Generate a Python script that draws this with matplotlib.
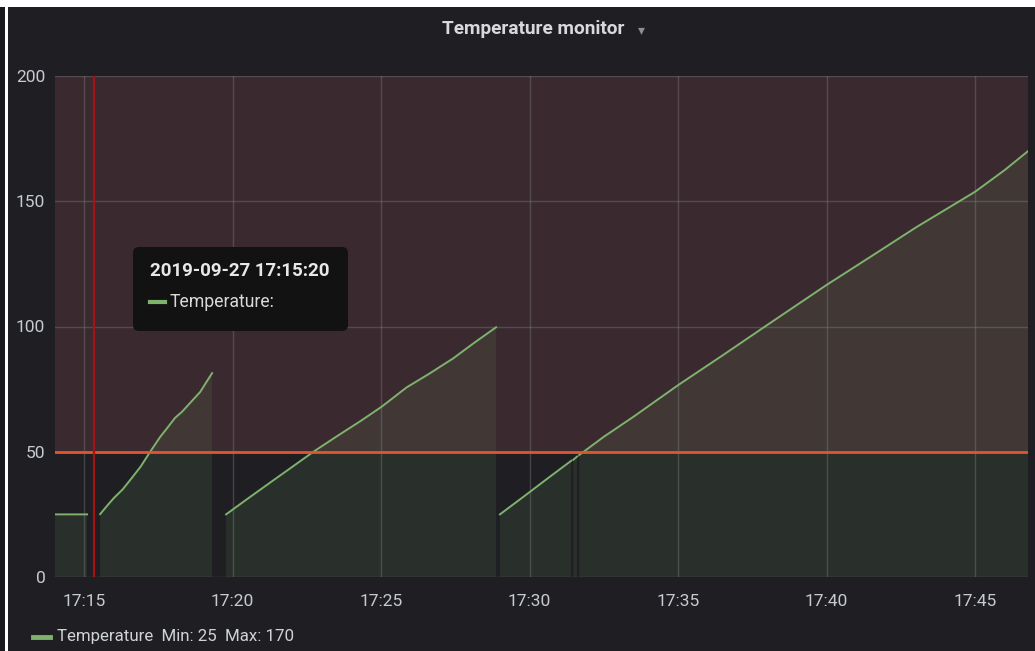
import numpy as np
import matplotlib
matplotlib.use("Agg")
import matplotlib.pyplot as plt
from matplotlib.patches import Rectangle, FancyBboxPatch
from matplotlib.lines import Line2D
from matplotlib.transforms import IdentityTransform

# ---------------- data (minutes past 17:00, temperature) ----------------
nan = np.nan
minutes = [14.02, 15.10, 15.30,
           15.54, 15.80, 16.00, 16.30, 16.55, 16.90, 17.22, 17.56, 17.80, 18.06, 18.30, 18.57, 18.91, 19.10, 19.31, 19.50,
           19.78, 20.50, 21.30, 22.00, 22.72, 23.50, 24.30, 25.02, 25.86, 26.60, 27.43, 28.10, 28.87, 28.93,
           29.00, 29.80, 30.60, 31.40, 31.44, 31.47, 31.60, 31.64,
           31.67, 32.50, 33.50, 35.00, 36.50, 38.00, 40.00, 41.50, 43.00, 45.00, 46.00, 46.78]
temperature = [25.0, 25.0, nan,
               25.1, 28.8, 31.5, 35.0, 38.7, 44.0, 49.9, 55.9, 59.5, 63.5, 66.0, 69.5, 73.9, 77.5, 81.4, nan,
               25.0, 31.2, 38.0, 43.9, 50.0, 56.1, 62.2, 68.0, 75.7, 81.0, 87.3, 93.2, 99.7, nan,
               25.0, 32.1, 39.3, 46.4, nan, 46.8, 48.1, nan,
               48.7, 56.0, 64.0, 76.6, 88.5, 100.6, 116.6, 128.0, 139.5, 153.8, 162.5, 170.0]

x_ticks = [15, 20, 25, 30, 35, 40, 45]
x_tick_labels = ["17:15", "17:20", "17:25", "17:30", "17:35", "17:40", "17:45"]
y_ticks = [0, 50, 100, 150, 200]
threshold = 50
hover_minute = 15 + 20 / 60.0
title = "Temperature monitor"
tooltip_time = "2019-09-27 17:15:20"
series_name = "Temperature"
legend_text = "Temperature  Min: 25  Max: 170"

# ---------------- style ----------------
W, H = 1035, 651
PANEL = "#1f1f23"
TXT = "#c7cbd0"
GREEN = "#7eb26d"
FONT = ["Roboto", "DejaVu Sans"]

plt.rcParams["font.family"] = FONT

fig = plt.figure(figsize=(W / 100, H / 100), dpi=100, facecolor=PANEL)

# white frame strips (top and left)
fig.patches.append(Rectangle((0, (H - 7) / H), 1, 7 / H, transform=fig.transFigure,
                             facecolor="white", edgecolor="none", zorder=0))
fig.patches.append(Rectangle((5 / W, 0), 3 / W, 1, transform=fig.transFigure,
                             facecolor="white", edgecolor="none", zorder=0))
fig.patches.append(Rectangle((0, 0), 5 / W, (H - 7) / H, transform=fig.transFigure,
                             facecolor="#18191c", edgecolor="none", zorder=0))

left, right, top, bottom = 55, 1028, 76, 577
ax = fig.add_axes([left / W, (H - bottom) / H, (right - left) / W, (bottom - top) / H])
ax.set_facecolor(PANEL)

ax.set_xlim(14.02, 46.78)
ax.set_ylim(0, 200)

# threshold region
ax.axhspan(threshold, 200, color="#3a2a30", zorder=0.5, lw=0)

t = np.array(minutes)
v = np.array(temperature)
ax.fill_between(t, 0, v, color=GREEN, alpha=0.11, lw=0, zorder=1)
ax.plot(t, v, color=GREEN, lw=1.4, zorder=2.2)

ax.axhline(threshold, color="#e2552f", lw=2.0, zorder=2.5)
ax.axvline(hover_minute, color="#a01414", lw=1.6, zorder=3)

ax.set_xticks(x_ticks)
ax.set_xticklabels(x_tick_labels)
ax.set_yticks(y_ticks)
ax.set_axisbelow("line")
ax.grid(True, color="#8a8a8a", alpha=0.35, lw=1)
ax.tick_params(length=0, colors=TXT, labelsize=12.5)
ax.tick_params(axis="x", pad=12)
ax.tick_params(axis="y", pad=7)
for s in ax.spines.values():
    s.set_visible(False)

# title
fig.text(533 / W, (H - 29) / H, title, ha="center", va="center", color="#d8d9da",
         fontsize=13.7, fontweight="bold")
fig.text(641 / W, (H - 30) / H, "\u25be", ha="center", va="center", color="#8e8e8e",
         fontsize=10, family="DejaVu Sans")

# tooltip
fig.patches.append(FancyBboxPatch((133, H - 331), 215, 84, boxstyle="round,pad=0,rounding_size=6",
                                  transform=IdentityTransform(), facecolor="#121212",
                                  edgecolor="none", zorder=10))
fig.text(150 / W, (H - 271) / H, tooltip_time, ha="left", va="center", color="#e8e8e8",
         fontsize=13.5, fontweight="bold", zorder=11)
fig.lines.append(Line2D([150, 165], [H - 302, H - 302], transform=IdentityTransform(),
                        color=GREEN, lw=3, zorder=11))
fig.text(170 / W, (H - 302) / H, series_name + ":", ha="left", va="center", color="#d8d9da",
         fontsize=12.7, zorder=11)

# legend
fig.lines.append(Line2D([33, 50], [H - 637, H - 637], transform=IdentityTransform(),
                        color=GREEN, lw=3.5))
fig.text(57 / W, (H - 637) / H, legend_text, ha="left", va="center", color="#d0d3d6",
         fontsize=12.2)

fig.savefig("out.png", dpi=100, facecolor=PANEL)
